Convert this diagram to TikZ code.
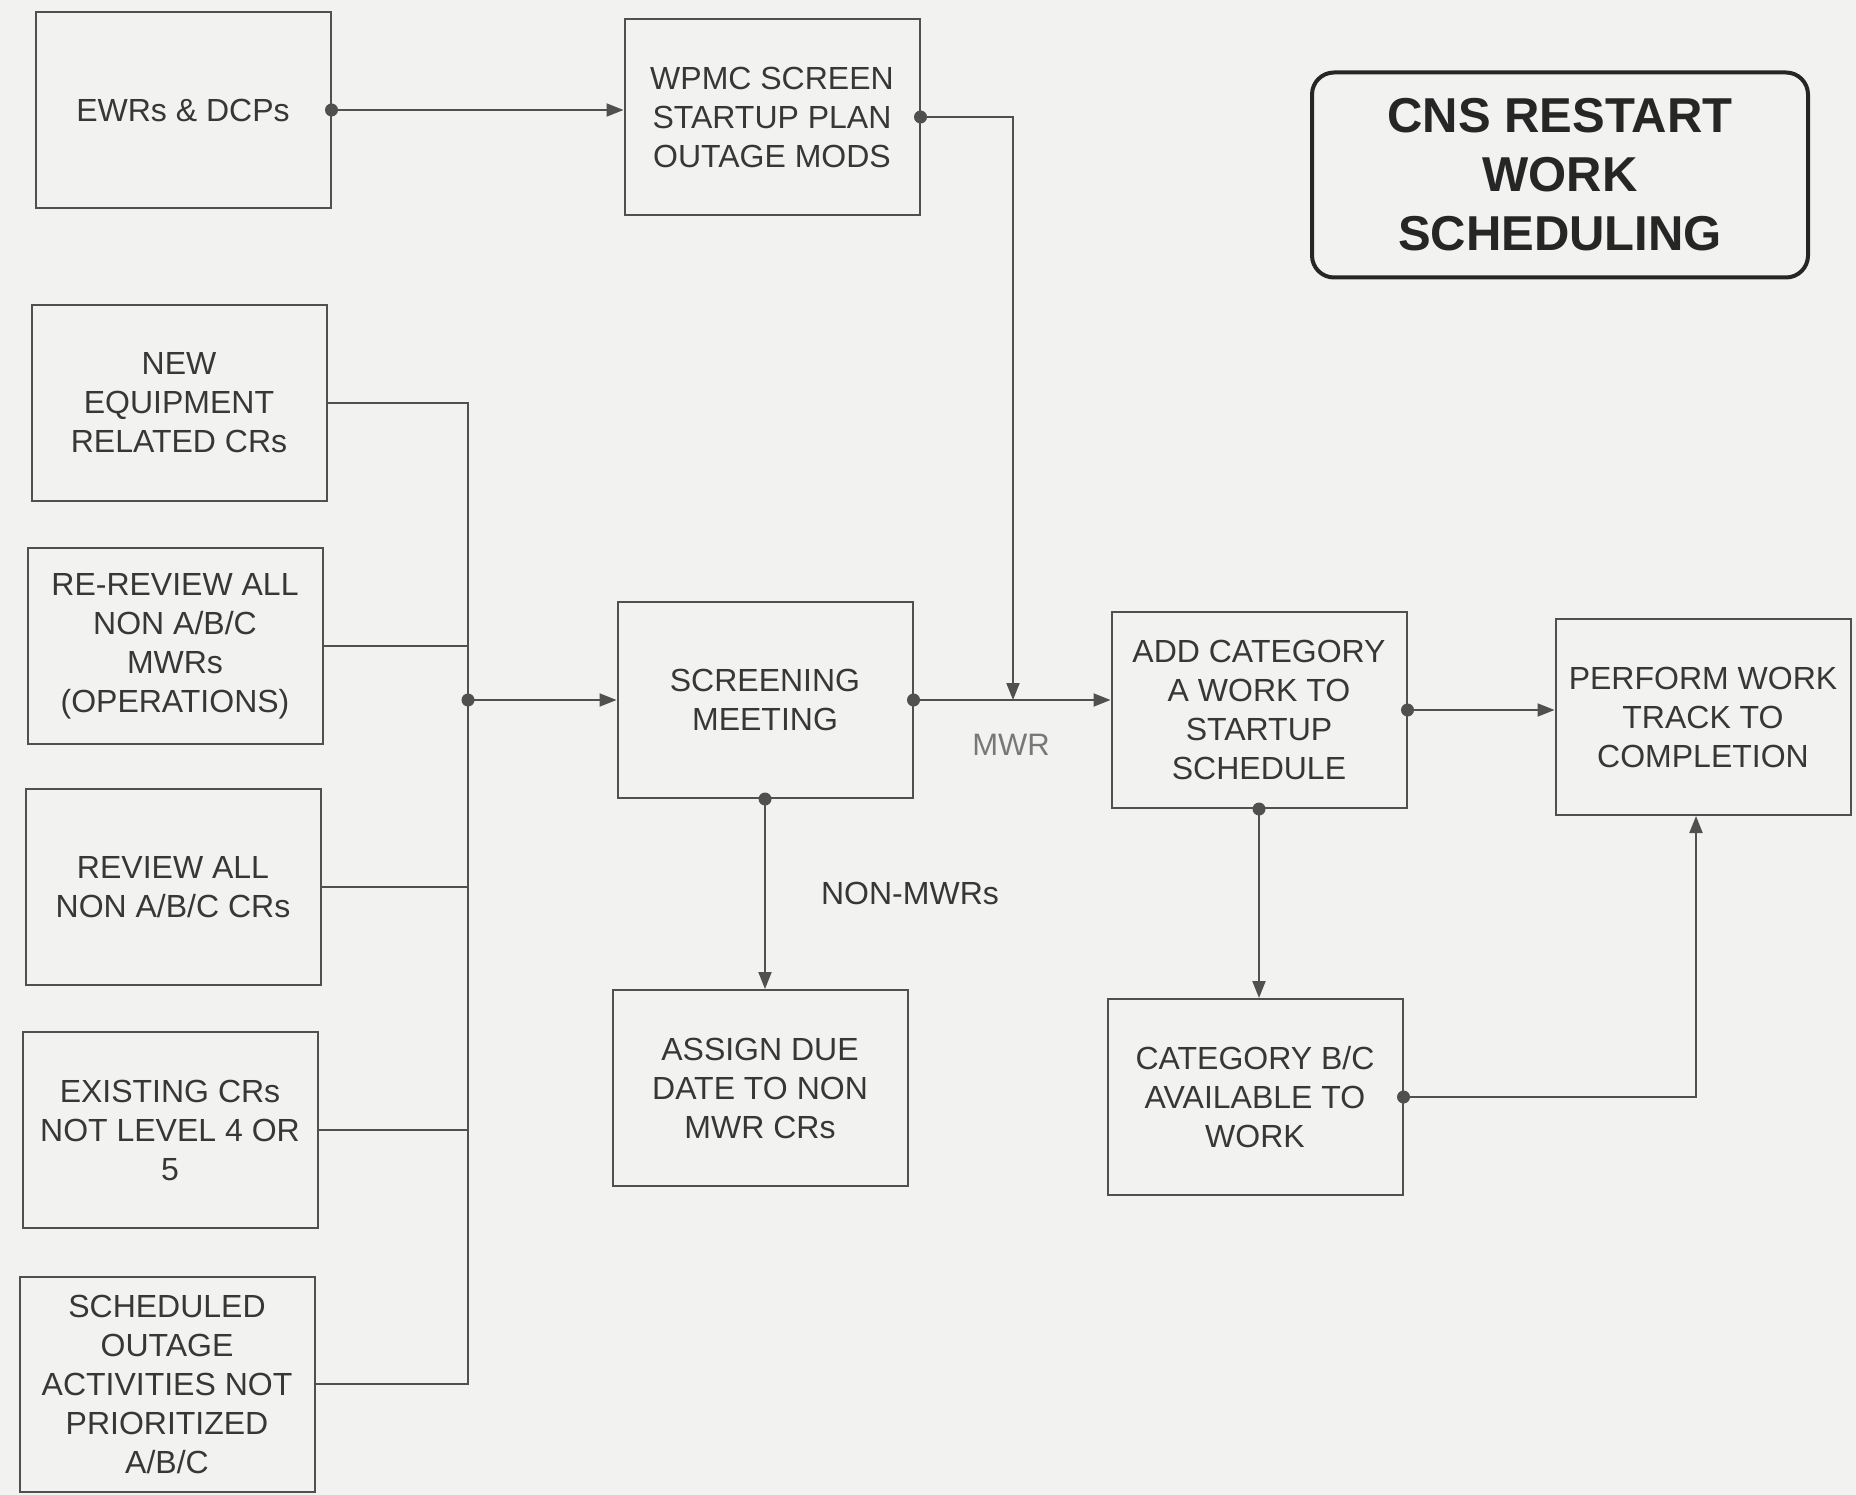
\documentclass[tikz,border=0pt]{standalone}
\usepackage{fontspec}
\setmainfont{Liberation Sans}
\usetikzlibrary{arrows.meta}
\definecolor{paper}{RGB}{242,242,240}
\definecolor{ink}{RGB}{55,55,55}
\definecolor{wire}{RGB}{80,80,80}
\definecolor{soft}{RGB}{120,120,120}
\tikzset{
  stepbox/.style={draw=wire, line width=2pt, minimum width=295pt, minimum height=196pt,
    inner sep=0pt, align=center, text=ink, font=\fontsize{32}{39}\selectfont},
  flow/.style={draw=wire, line width=2pt, -{Triangle[length=17pt,width=13pt]}},
  link/.style={draw=wire, line width=2pt},
  tag/.style={text=ink, inner sep=0pt, font=\fontsize{32}{39}\selectfont},
}
\newcommand{\knot}[1]{\fill[wire] (#1) circle (6.5pt);}
\begin{document}
\begin{tikzpicture}[x=1pt,y=-1pt]
  \fill[paper] (0,0) rectangle (1856,1495);
  \useasboundingbox (0,0) rectangle (1856,1495);

  % process boxes
  \node[stepbox] (ewr)    at (183,110)  {EWRs \& DCPs};
  \node[stepbox] (wpmc)   at (772,117)  {WPMC SCREEN\\STARTUP PLAN\\OUTAGE MODS};
  \node[stepbox] (new)    at (179,403)  {NEW\\EQUIPMENT\\RELATED CRs};
  \node[stepbox] (rerev)  at (175,646)  {RE-REVIEW ALL\\NON A/B/C\\MWRs\\(OPERATIONS)};
  \node[stepbox] (rev)    at (173,887)  {REVIEW ALL\\NON A/B/C CRs};
  \node[stepbox] (exist)  at (170,1130) {EXISTING CRs\\NOT LEVEL 4 OR\\5};
  \node[stepbox, minimum height=215pt] (sched) at (167,1384)
        {SCHEDULED\\OUTAGE\\ACTIVITIES NOT\\PRIORITIZED\\A/B/C};
  \node[stepbox] (scr)    at (765,700)  {SCREENING\\MEETING};
  \node[stepbox] (assign) at (760,1088) {ASSIGN DUE\\DATE TO NON\\MWR CRs};
  \node[stepbox] (add)    at (1259,710) {ADD CATEGORY\\A WORK TO\\STARTUP\\SCHEDULE};
  \node[stepbox] (perf)   at (1703,717) {PERFORM WORK\\TRACK TO\\COMPLETION};
  \node[stepbox] (catbc)  at (1255,1097) {CATEGORY B/C\\AVAILABLE TO\\WORK};

  % title
  \node[draw=black!85, line width=4pt, rounded corners=22pt, minimum width=496pt,
        minimum height=205pt, align=center, text=black!85,
        font=\bfseries\fontsize{49}{59}\selectfont] (title) at (1560,175)
        {CNS RESTART\\WORK\\SCHEDULING};

  % connector labels
  \node[tag, text=soft, font=\fontsize{31}{39}\selectfont] (mwr) at (1011,745) {MWR};
  \node[tag] (nonmwr) at (910,893) {NON-MWRs};

  % helper points
  \coordinate (bus) at (468,0);
  \coordinate (join) at (468,700);
  \coordinate (mwrin) at (1013,700);

  % input bus feeding the screening meeting
  \draw[link] (new.east) -| (sched.east -| bus) -- (sched.east);
  \draw[link] (rerev.east) -- (rerev.east -| bus);
  \draw[link] (rev.east) -- (rev.east -| bus);
  \draw[link] (exist.east) -- (exist.east -| bus);
  \draw[flow] (join) -- (scr.west);
  \knot{join}

  % upper path
  \draw[flow] (ewr.east) -- (ewr.east -| wpmc.west);
  \knot{ewr.east}
  \draw[flow] (wpmc.east) -| (mwrin);
  \knot{wpmc.east}

  % screening outputs
  \draw[flow] (scr.east) -- (scr.east -| add.west);
  \knot{scr.east}
  \draw[flow] (scr.south) -- (scr.south |- assign.north);
  \knot{scr.south}

  % scheduling to completion
  \draw[flow] (add.east) -- (add.east -| perf.west);
  \knot{add.east}
  \draw[flow] (add.south) -- (add.south |- catbc.north);
  \knot{add.south}
  \draw[flow] (catbc.east) -| ([xshift=-7pt]perf.south);
  \knot{catbc.east}
\end{tikzpicture}
\end{document}
